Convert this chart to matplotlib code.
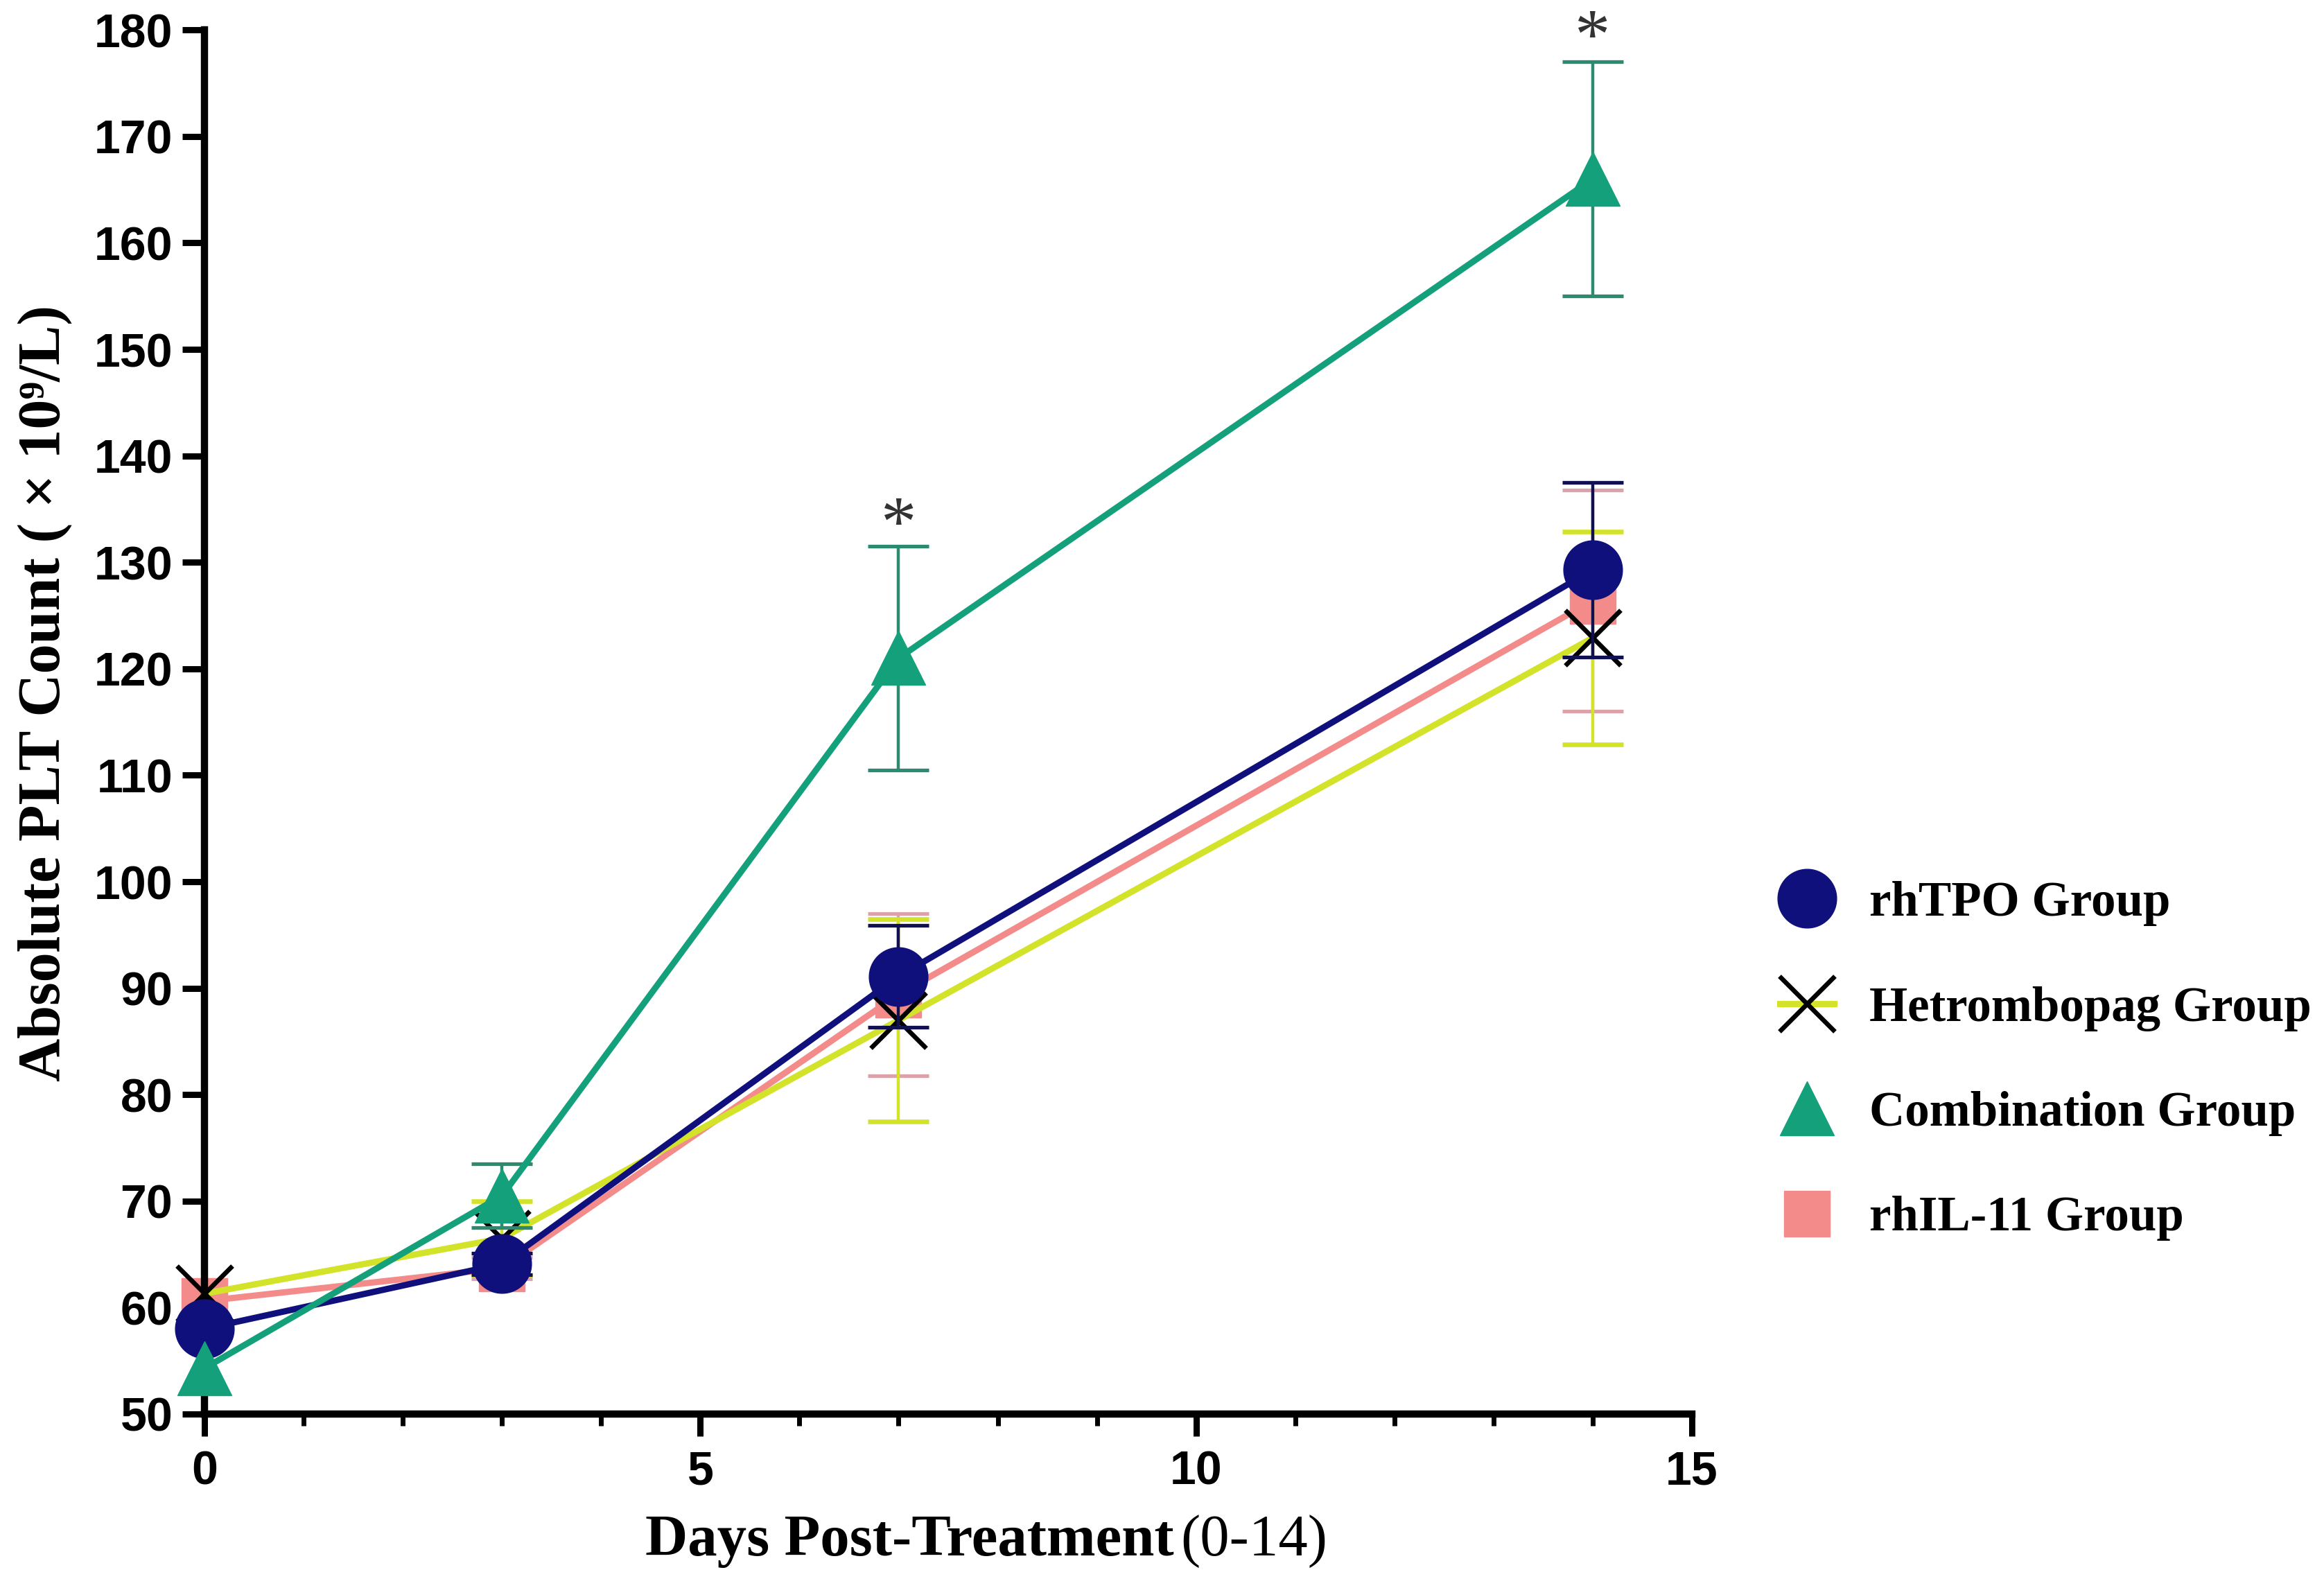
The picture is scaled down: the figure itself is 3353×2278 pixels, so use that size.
import matplotlib
matplotlib.use('Agg')
import matplotlib.pyplot as plt
from matplotlib.lines import Line2D
from matplotlib.ticker import MultipleLocator

days = [0, 3, 7, 14]

tpo_mean = [58.0, 64.1, 91.1, 129.3]
tpo_sd = [0.5, 1.0, 4.8, 8.2]

hetro_mean = [61.3, 66.5, 87.0, 122.9]
hetro_sd = [0.5, 3.5, 9.5, 10.0]

combo_mean = [54.3, 70.5, 121.0, 166.0]
combo_sd = [0.5, 3.0, 10.5, 11.0]

il11_mean = [60.6, 63.7, 89.4, 126.4]
il11_sd = [0.5, 1.0, 7.6, 10.4]

labels = ['rhTPO Group', 'Hetrombopag Group', 'Combination Group', 'rhIL-11 Group']
star_days = [7, 14]
star_y = [133.2, 179.0]

navy = '#10107c'
yellow = '#d2e32a'
teal = '#15a07c'
teal_err = '#2b8a70'
pink = '#f48b8b'
pink_err = '#dba2aa'

fig = plt.figure(figsize=(33.53, 22.78), dpi=100)
ax = fig.add_axes([0.088, 0.1045, 0.640, 0.8765])

lw = 6.5
ew = 3.2
cap = 32
cth = 3.8
# day-0 error bars are hidden by the markers in the original
every = (1, 1)

# hetrombopag (yellow line, black X)
ax.errorbar(days, hetro_mean, yerr=hetro_sd, color=yellow, lw=lw, elinewidth=ew,
            capsize=cap, capthick=cth, marker='x', ms=58, mec='black', mew=4.8,
            ecolor=yellow, zorder=3, clip_on=False, errorevery=every)
# rhIL-11
ax.errorbar(days, il11_mean, yerr=il11_sd, color=pink, lw=lw, elinewidth=ew,
            capsize=cap, capthick=cth, marker='s', ms=48, mec=pink, mfc=pink,
            ecolor=pink_err, zorder=2, clip_on=False, errorevery=every)
# rhTPO
ax.errorbar(days, tpo_mean, yerr=tpo_sd, color=navy, lw=lw, elinewidth=ew,
            capsize=cap, capthick=cth, marker='o', ms=61, mec=navy, mfc=navy,
            ecolor='#101050', zorder=4, clip_on=False, errorevery=every)
# combination
ax.errorbar(days, combo_mean, yerr=combo_sd, color=teal, lw=lw, elinewidth=ew,
            capsize=cap, capthick=cth, marker='^', ms=56, mec=teal, mfc=teal,
            ecolor=teal_err, zorder=5, clip_on=False, errorevery=every)

for d, y in zip(star_days, star_y):
    ax.text(d, y, '*', fontsize=74, color='#333333', ha='center', va='center',
            family='Liberation Serif')

ax.set_xlim(0, 15)
ax.set_ylim(50, 180)
ax.xaxis.set_major_locator(MultipleLocator(5))
ax.xaxis.set_minor_locator(MultipleLocator(1))
ax.yaxis.set_major_locator(MultipleLocator(10))

for s in ['top', 'right']:
    ax.spines[s].set_visible(False)
for s in ['left', 'bottom']:
    ax.spines[s].set_linewidth(7.5)
    ax.spines[s].set_color('black')

ax.tick_params(axis='both', which='major', length=23, width=6.5, direction='out',
               labelsize=49, pad=10)
ax.tick_params(axis='x', which='minor', length=12, width=5, direction='out')
ax.tick_params(axis='x', which='major', pad=14)
for t in ax.get_xticklabels() + ax.get_yticklabels():
    t.set_fontfamily('Liberation Sans')
    t.set_fontweight('bold')

ax.set_ylabel('Absolute PLT Count ( × 10⁹/L)', fontsize=62, fontweight='bold',
              family=['Liberation Serif', 'DejaVu Serif'])
ax.yaxis.set_label_coords(-0.089, 0.521)

fig.text(0.505, 0.024, 'Days Post-Treatment', fontsize=61, fontweight='bold',
         family='Liberation Serif', ha='right', va='center')
fig.text(0.508, 0.024, '(0-14)', fontsize=61, family='Liberation Serif',
         ha='left', va='center')

handles = [
    Line2D([], [], color=navy, lw=0, marker='o', ms=61, mfc=navy, mec=navy),
    Line2D([], [], color=yellow, lw=lw, marker='x', ms=58, mec='black', mew=4.8),
    Line2D([], [], color=teal, lw=0, marker='^', ms=56, mfc=teal, mec=teal),
    Line2D([], [], color=pink, lw=0, marker='s', ms=48, mfc=pink, mec=pink),
]
leg = fig.legend(handles, labels, loc='center left', bbox_to_anchor=(0.747, 0.328),
                 frameon=False, handlelength=1.1, handletextpad=0.72,
                 labelspacing=1.22, prop={'family': 'Liberation Serif',
                                          'weight': 'bold', 'size': 51})

fig.savefig('out.png', dpi=100)
